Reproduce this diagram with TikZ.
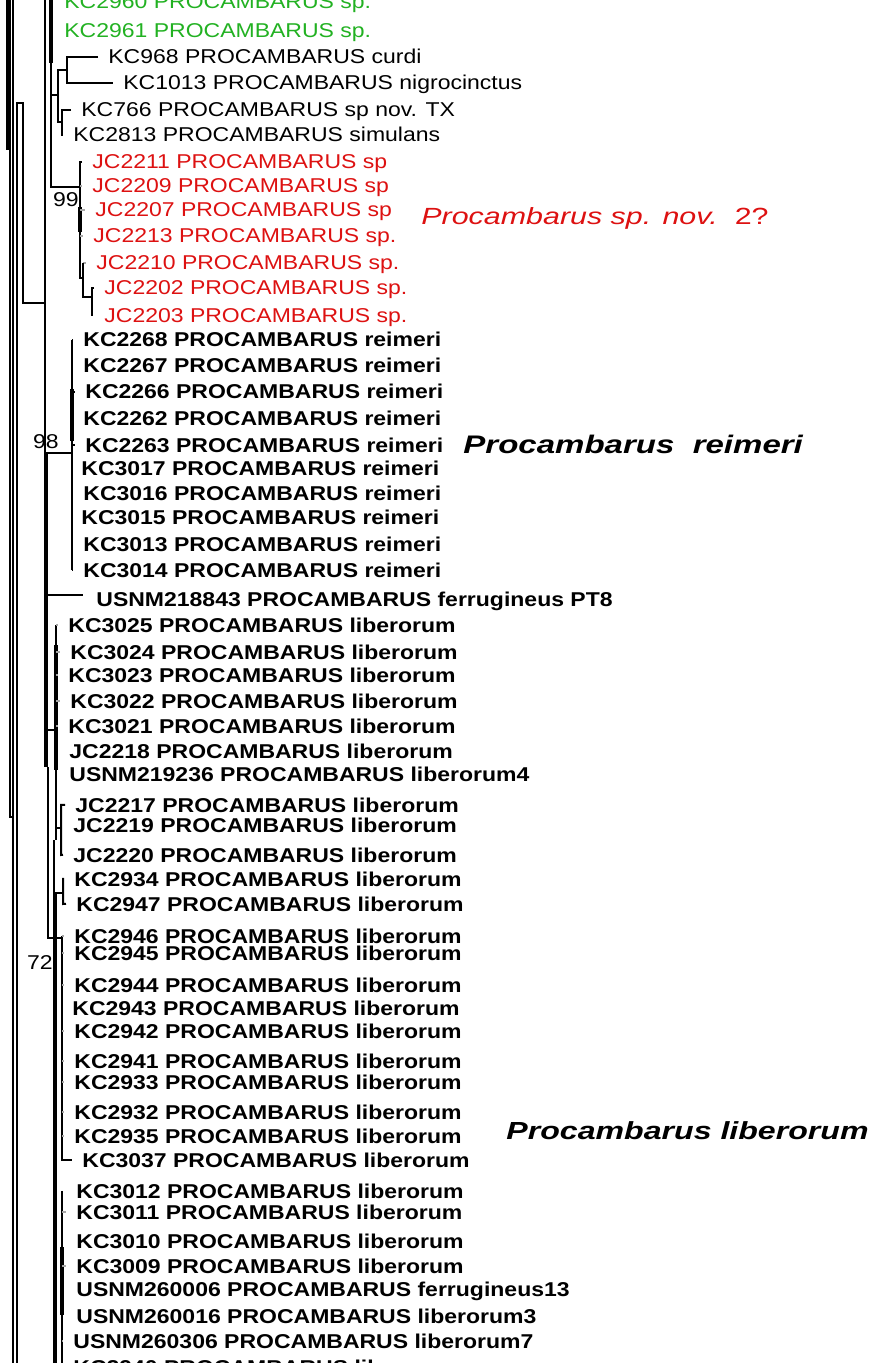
\documentclass[tikz,border=0pt]{standalone}
\usepackage{fontspec}
\setmainfont{Liberation Sans}[FakeStretch=1.15]
\newfontfamily\cladefont{Liberation Sans}[FakeStretch=1.3]
\definecolor{sppgreen}{RGB}{34,177,34}
\definecolor{sppred}{RGB}{221,17,17}

\begin{document}
\begin{tikzpicture}[
    x=0.5pt, y=-0.5pt,
    branch/.style={line width=1pt},
    stem/.style={line width=2pt},
    stub/.style={line width=1pt, gray!70},
    taxon/.style={anchor=base west, inner xsep=5pt, inner ysep=0pt, text height=7.2pt, text depth=0pt,
        font=\fontsize{10}{11}\selectfont},
    taxonb/.style={taxon, font=\fontsize{10}{11}\selectfont\bfseries},
    support/.style={anchor=base east, inner sep=0pt, font=\fontsize{10}{11}\selectfont},
    clade/.style={anchor=base west, inner sep=0pt}
]

    \useasboundingbox (0,0) rectangle (877,1363);
    \clip (0,0) rectangle (877,1363);

    % x positions of the clade verticals
    \def\redX{80}
    \def\reiX{72}
    \def\libX{56}
    \def\lowX{62}
    \coordinate (redX) at (\redX,0);
    \coordinate (redsubX) at (83,0);
    \coordinate (reiX) at (\reiX,0);
    \coordinate (libX) at (\libX,0);
    \coordinate (lowX) at (\lowX,0);
    \coordinate (botX) at (\lowX,0);

    % Taxa, from top to bottom
    \node[taxon, sppgreen] (kc2960) at (54,9) {KC2960 PROCAMBARUS sp.};
    \node[taxon, sppgreen] (kc2961) at (54,38) {KC2961 PROCAMBARUS sp.};
    \node[taxon] (kc968) at (98,64) {KC968 PROCAMBARUS curdi};
    \node[taxon] (kc1013) at (113,90) {KC1013 PROCAMBARUS nigrocinctus};
    \node[taxon] (kc766) at (71,117) {KC766 PROCAMBARUS sp nov. TX};
    \node[taxon] (kc2813) at (63,142) {KC2813 PROCAMBARUS simulans};
    \node[taxon, sppred] (jc2211) at (82,169) {JC2211 PROCAMBARUS sp};
    \node[taxon, sppred] (jc2209) at (82,193) {JC2209 PROCAMBARUS sp};
    \node[taxon, sppred] (jc2207) at (85,217) {JC2207 PROCAMBARUS sp};
    \node[taxon, sppred] (jc2213) at (83,243) {JC2213 PROCAMBARUS sp.};
    \node[taxon, sppred] (jc2210) at (86,270) {JC2210 PROCAMBARUS sp.};
    \node[taxon, sppred] (jc2202) at (94,295) {JC2202 PROCAMBARUS sp.};
    \node[taxon, sppred] (jc2203) at (94,323) {JC2203 PROCAMBARUS sp.};
    \node[taxonb] (kc2268) at (73,347) {KC2268 PROCAMBARUS reimeri};
    \node[taxonb] (kc2267) at (73,373) {KC2267 PROCAMBARUS reimeri};
    \node[taxonb] (kc2266) at (75,399) {KC2266 PROCAMBARUS reimeri};
    \node[taxonb] (kc2262) at (73,425) {KC2262 PROCAMBARUS reimeri};
    \node[taxonb] (kc2263) at (75,452) {KC2263 PROCAMBARUS reimeri};
    \node[taxonb] (kc3017) at (71,475) {KC3017 PROCAMBARUS reimeri};
    \node[taxonb] (kc3016) at (73,500) {KC3016 PROCAMBARUS reimeri};
    \node[taxonb] (kc3015) at (71,524) {KC3015 PROCAMBARUS reimeri};
    \node[taxonb] (kc3013) at (73,551) {KC3013 PROCAMBARUS reimeri};
    \node[taxonb] (kc3014) at (73,577) {KC3014 PROCAMBARUS reimeri};
    \node[taxonb] (usnm218843) at (86,606) {USNM218843 PROCAMBARUS ferrugineus PT8};
    \node[taxonb] (kc3025) at (58,632) {KC3025 PROCAMBARUS liberorum};
    \node[taxonb] (kc3024) at (60,659) {KC3024 PROCAMBARUS liberorum};
    \node[taxonb] (kc3023) at (58,682) {KC3023 PROCAMBARUS liberorum};
    \node[taxonb] (kc3022) at (60,708) {KC3022 PROCAMBARUS liberorum};
    \node[taxonb] (kc3021) at (58,733) {KC3021 PROCAMBARUS liberorum};
    \node[taxonb] (jc2218) at (59,758) {JC2218 PROCAMBARUS liberorum};
    \node[taxonb] (usnm219236) at (59,781) {USNM219236 PROCAMBARUS liberorum4};
    \node[taxonb] (jc2217) at (65,812) {JC2217 PROCAMBARUS liberorum};
    \node[taxonb] (jc2219) at (63,832) {JC2219 PROCAMBARUS liberorum};
    \node[taxonb] (jc2220) at (63,862) {JC2220 PROCAMBARUS liberorum};
    \node[taxonb] (kc2934) at (64,886) {KC2934 PROCAMBARUS liberorum};
    \node[taxonb] (kc2947) at (66,911) {KC2947 PROCAMBARUS liberorum};
    \node[taxonb] (kc2946) at (64,943) {KC2946 PROCAMBARUS liberorum};
    \node[taxonb] (kc2945) at (64,960) {KC2945 PROCAMBARUS liberorum};
    \node[taxonb] (kc2944) at (64,992) {KC2944 PROCAMBARUS liberorum};
    \node[taxonb] (kc2943) at (62,1015) {KC2943 PROCAMBARUS liberorum};
    \node[taxonb] (kc2942) at (64,1038) {KC2942 PROCAMBARUS liberorum};
    \node[taxonb] (kc2941) at (64,1068) {KC2941 PROCAMBARUS liberorum};
    \node[taxonb] (kc2933) at (64,1089) {KC2933 PROCAMBARUS liberorum};
    \node[taxonb] (kc2932) at (64,1119) {KC2932 PROCAMBARUS liberorum};
    \node[taxonb] (kc2935) at (64,1143) {KC2935 PROCAMBARUS liberorum};
    \node[taxonb] (kc3037) at (72,1167) {KC3037 PROCAMBARUS liberorum};
    \node[taxonb] (kc3012) at (66,1198) {KC3012 PROCAMBARUS liberorum};
    \node[taxonb] (kc3011) at (66,1219) {KC3011 PROCAMBARUS liberorum};
    \node[taxonb] (kc3010) at (66,1248) {KC3010 PROCAMBARUS liberorum};
    \node[taxonb] (kc3009) at (66,1273) {KC3009 PROCAMBARUS liberorum};
    \node[taxonb] (usnm260006) at (66,1296) {USNM260006 PROCAMBARUS ferrugineus13};
    \node[taxonb] (usnm260016) at (66,1323) {USNM260016 PROCAMBARUS liberorum3};
    \node[taxonb] (usnm260306) at (63,1348) {USNM260306 PROCAMBARUS liberorum7};
    \node[taxonb] (kc2940) at (63,1374) {KC2940 PROCAMBARUS liberorum};

    % Clade names on the right
    \node[clade, sppred, font=\cladefont\fontsize{11.7}{14}\selectfont] (spnov) at (421,225)
        {\textit{Procambarus sp. nov.}\ \ 2?};
    \node[clade, font=\cladefont\fontsize{12.7}{14}\selectfont\bfseries\itshape] (reimeri) at (463,453)
        {Procambarus\ \ reimeri};
    \node[clade, font=\cladefont\fontsize{12.35}{14}\selectfont\bfseries\itshape] (liberorum) at (506,1139)
        {Procambarus liberorum};

    % Bootstrap values
    \node[support] (b99) at (79,207) {99};
    \node[support] (b98) at (59,448) {98};
    \node[support] (b72) at (53,969) {72};

    % Deep lines along the left edge
    \draw[stem] (8,-5) -- (8,150);
    \draw[branch] (10,-5) -- (10,817) -- (13,817);
    \draw[branch] (13,-5) -- (13,1370);
    \draw[branch] (17,1370) -- (17,103) -- (23,103) -- (23,303) -- (45,303);
    \draw[branch] (45,-5) -- (45,453);
    \draw[stem] (46,453) -- (46,767);
    \draw[branch] (48,767) -- (48,938) -- (\lowX,938);

    % Green clade and its sisters
    \draw[stem] (51,-5) -- (51,63);
    \draw[branch] (51,63) -- (51,187) -- (\redX,187);
    \draw[branch] (51,95) -- (58,95);
    \draw[branch] (kc968.west) -| (67,70) |- (kc1013.west);
    \draw[branch] (67,70) -| (58,122) -- (62,122);
    \draw[branch] (kc766.west) -| (62,122) |- (kc2813.west);

    % Procambarus sp. nov. 2?
    \draw[branch] (jc2211.west) -| (\redX,278) -- (83,278);
    \draw[stem] (\redX,207) -- (\redX,232);
    \draw[stub] (redX |- jc2209.west) -- (jc2209.west)
                (redX |- jc2207.west) -- (jc2207.west)
                (redX |- jc2213.west) -- (jc2213.west)
                (redsubX |- jc2210.west) -- (jc2210.west);
    \draw[branch] (redsubX |- jc2210.west) -- (83,297) -- (92,297);
    \draw[branch] (jc2202.west) -| (92,316);

    % Procambarus reimeri
    \draw[branch] (46,453) -- (\reiX,453);
    \draw[branch] (reiX |- kc2268.west) -- (reiX |- kc3014.west);
    \draw[stem] (\reiX,389) -- (\reiX,441);
    \draw[branch] (reiX |- kc2268.west) -- (kc2268.west)
                  (reiX |- kc2267.west) -- (kc2267.west)
                  (reiX |- kc2266.west) -- (kc2266.west)
                  (reiX |- kc2262.west) -- (kc2262.west)
                  (reiX |- kc2263.west) -- (kc2263.west)
                  (reiX |- kc3017.west) -- (kc3017.west)
                  (reiX |- kc3016.west) -- (kc3016.west)
                  (reiX |- kc3015.west) -- (kc3015.west)
                  (reiX |- kc3013.west) -- (kc3013.west)
                  (reiX |- kc3014.west) -- (kc3014.west);
    \draw[branch] (46,595) -- (83,595);

    % Procambarus liberorum, upper group
    \draw[branch] (46,730) -- (\libX,730);
    \draw[branch] (libX |- kc3025.west) -- (\libX,840);
    \draw[stem] (\libX,645) -- (\libX,770);
    \draw[stub] (libX |- kc3025.west) -- (kc3025.west)
                (libX |- kc3024.west) -- (kc3024.west)
                (libX |- kc3023.west) -- (kc3023.west)
                (libX |- kc3022.west) -- (kc3022.west)
                (libX |- kc3021.west) -- (kc3021.west);
    \draw[branch] (\libX,828) -- (61,828);
    \draw[branch] (jc2217.west) -| (61,855) -- (jc2220.west);
    \draw[branch] (54,840) -- (54,893) -- (63,893);
    \draw[branch] (kc2934.west) -| (63,904) -- (kc2947.west);

    % Procambarus liberorum, lower group
    \draw[stem] (55,893) -- (55,1370);
    \draw[branch] (lowX |- kc2946.west) -- (lowX |- kc3037.west) -- (kc3037.west);
    \draw[stub] (lowX |- kc2946.west) -- (kc2946.west)
                (lowX |- kc2945.west) -- (kc2945.west)
                (lowX |- kc2944.west) -- (kc2944.west)
                (lowX |- kc2943.west) -- (kc2943.west)
                (lowX |- kc2942.west) -- (kc2942.west)
                (lowX |- kc2941.west) -- (kc2941.west)
                (lowX |- kc2933.west) -- (kc2933.west)
                (lowX |- kc2932.west) -- (kc2932.west)
                (lowX |- kc2935.west) -- (kc2935.west);
    \draw[branch] (botX |- kc3012.west) -- (\lowX,1370);
    \draw[stem] (\lowX,1247) -- (\lowX,1315);
    \draw[stub] (botX |- kc3011.west) -- (kc3011.west)
                (botX |- kc3009.west) -- (kc3009.west)
                (botX |- usnm260306.west) -- (usnm260306.west);

\end{tikzpicture}
\end{document}
